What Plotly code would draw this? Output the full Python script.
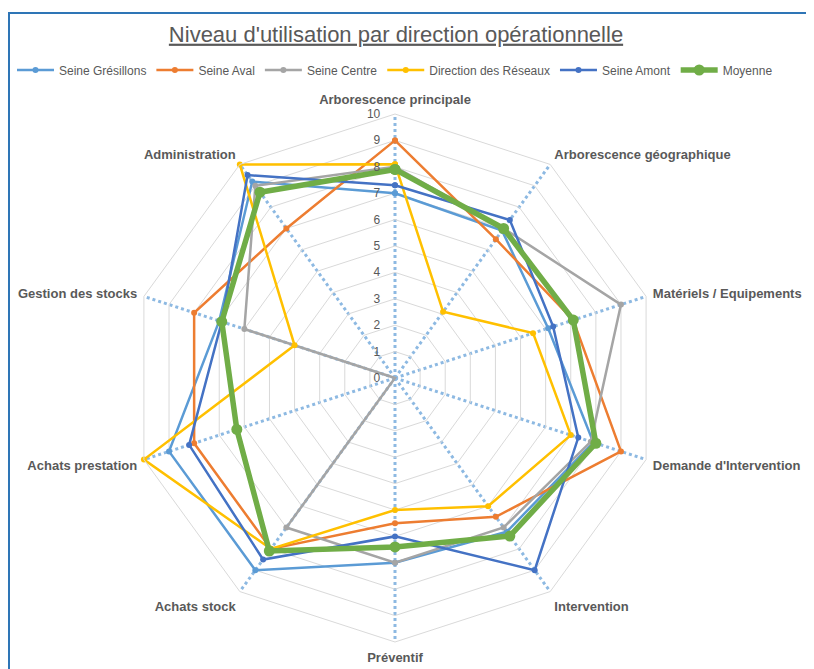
import plotly.graph_objects as go

categories = ["Arborescence principale", "Arborescence géographique", "Matériels / Equipements",
              "Demande d'Intervention", "Intervention", "Préventif", "Achats stock",
              "Achats prestation", "Gestion des stocks", "Administration"]

seine_gresillons = [7.0, 6.9, 6.1, 7.9, 7.2, 7.0, 9.0, 9.0, 7.0, 9.2]
seine_aval = [9.0, 6.5, 7.1, 9.0, 6.5, 5.5, 8.0, 8.0, 8.0, 7.0]
seine_centre = [8.0, 7.0, 9.0, 7.8, 7.0, 7.0, 7.0, 0.0, 6.0, 9.0]
direction_reseaux = [8.1, 3.1, 5.5, 7.0, 6.0, 5.0, 8.0, 10.0, 4.0, 10.0]
seine_amont = [7.3, 7.4, 6.3, 7.3, 9.0, 6.0, 8.5, 8.2, 6.9, 9.5]
moyenne = [7.9, 7.0, 7.1, 8.0, 7.4, 6.4, 8.1, 6.3, 6.9, 8.7]

series = [
    ("Seine Grésillons", seine_gresillons, "#5B9BD5", 2.5, 6),
    ("Seine Aval", seine_aval, "#ED7D31", 2.5, 6),
    ("Seine Centre", seine_centre, "#A5A5A5", 2.5, 6),
    ("Direction des Réseaux", direction_reseaux, "#FFC000", 2.5, 6),
    ("Seine Amont", seine_amont, "#4472C4", 2.5, 6),
    ("Moyenne", moyenne, "#70AD47", 5.5, 11),
]

fig = go.Figure()
for name, vals, col, lw, ms in series:
    fig.add_trace(go.Scatterpolar(
        r=vals + [vals[0]], theta=categories + [categories[0]],
        mode="lines+markers", name=name,
        line=dict(color=col, width=lw),
        marker=dict(color=col, size=ms, symbol="circle"),
    ))

W, H = 814, 669
OFF = 8  # page body margin
cx, cy, R = 395 - OFF, 378 - OFF, 264
fig.update_layout(
    width=W, height=H,
    margin=dict(l=0, r=0, t=0, b=0),
    paper_bgcolor="white", plot_bgcolor="white",
    font=dict(family="Liberation Sans, Arial, sans-serif", color="#595959"),
    title=dict(text="<u>Niveau d'utilisation par direction opérationnelle</u>",
               x=(396 - OFF) / W, xanchor="center", y=1 - (34 - OFF) / H, yanchor="middle",
               font=dict(size=22, color="#595959")),
    legend=dict(orientation="h", x=(12 - OFF) / W, xanchor="left", y=1 - (70 - OFF) / H,
                yanchor="middle", font=dict(size=12, color="#595959"),
                itemwidth=37, bgcolor="rgba(0,0,0,0)"),
    polar=dict(
        domain=dict(x=[(cx - R) / W, (cx + R) / W], y=[1 - (cy + R) / H, 1 - (cy - R) / H]),
        bgcolor="white",
        gridshape="linear",
        angularaxis=dict(direction="clockwise", rotation=90, showline=True,
                         linecolor="#D9D9D9", linewidth=1,
                         showgrid=True, gridcolor="#8DB9E2", gridwidth=3, griddash="dot",
                         ticks="outside", ticklen=4, tickcolor="rgba(0,0,0,0)",
                         tickfont=dict(size=13, color="#595959",
                                       family="Liberation Sans, Arial, sans-serif",
                                       weight="bold")),
        radialaxis=dict(range=[0, 10], dtick=1, angle=90, tickangle=90, showline=False,
                        ticks="outside", ticklen=10, tickcolor="rgba(0,0,0,0)",
                        side="counterclockwise",
                        gridcolor="#D9D9D9", gridwidth=1,
                        tickfont=dict(size=12, color="#595959")),
    ),
    shapes=[dict(type="rect", xref="paper", yref="paper",
                 x0=1 / W, x1=1.05, y0=-0.05, y1=1 - 5 / H,
                 line=dict(color="#2E75B6", width=2), layer="below")],
)

fig.write_html("out.html")
